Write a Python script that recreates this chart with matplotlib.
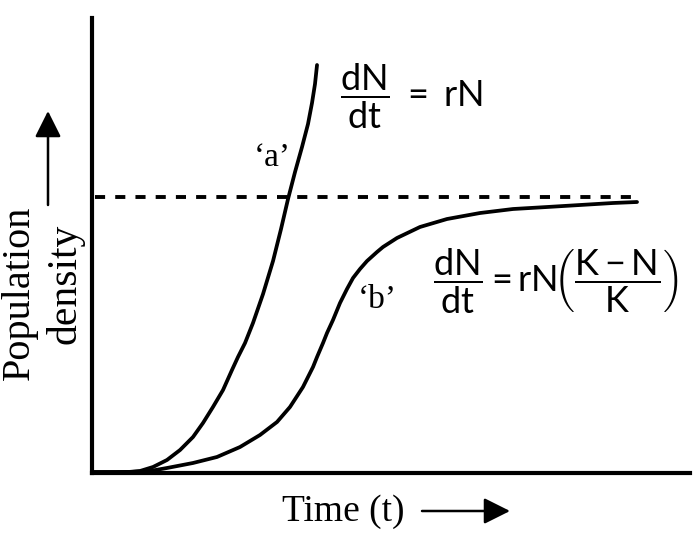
import matplotlib
matplotlib.use("Agg")
import matplotlib.pyplot as plt
from matplotlib.patches import FancyArrowPatch

# ---- data (time and density in arbitrary units, 0-100) ----
time_a = [0.0, 3.85, 6.35, 8.03, 10.20, 12.54, 14.72, 16.89, 18.56, 20.23, 21.91, 23.41,
          24.41, 25.59, 26.92, 28.60, 30.27, 31.61, 32.78, 33.95, 35.12, 36.12, 36.79,
          37.29, 37.63]
density_a = [0.2, 0.2, 0.25, 0.44, 1.32, 2.86, 5.05, 7.91, 10.99, 14.51, 18.24, 22.64,
             25.49, 28.57, 32.97, 39.34, 46.59, 53.63, 60.22, 66.15, 71.65, 76.70, 81.32,
             85.49, 89.67]

time_b = [0.0, 6.35, 9.70, 12.54, 16.89, 20.90, 24.75, 28.09, 30.94, 33.11, 35.28, 36.96,
          37.63, 38.63, 39.30, 40.30, 41.47, 42.64, 43.65, 44.82, 45.99, 47.66, 48.66,
          51.00, 54.85, 59.36, 64.88, 70.40, 76.09, 81.61, 87.12, 91.14]
density_b = [0.2, 0.22, 0.44, 1.10, 2.20, 3.52, 5.71, 8.35, 11.21, 14.51, 18.90, 23.30,
             25.49, 28.57, 30.77, 33.63, 37.36, 40.44, 42.86, 44.84, 46.59, 48.57, 49.67,
             51.65, 54.07, 55.82, 57.14, 58.02, 58.46, 58.90, 59.34, 59.56]

carrying_capacity = 60.6
capacity_time = [0.5, 90.5]

label_a = "\u2018a\u2019"
label_b = "\u2018b\u2019"
eq_exponential = r"$\dfrac{\mathrm{dN}}{\mathrm{dt}}\ =\ \mathrm{rN}$"
eq_logistic = r"$\dfrac{\mathrm{dN}}{\mathrm{dt}}=\mathrm{rN}\!\left(\dfrac{\mathrm{K}-\mathrm{N}}{\mathrm{K}}\right)$"
xlabel = "Time (t)"
ylabel_1 = "Population"
ylabel_2 = "density"

# ---- styling ----
plt.rcParams["mathtext.fontset"] = "custom"
plt.rcParams["mathtext.rm"] = "Lato"
plt.rcParams["mathtext.it"] = "Lato:italic"
plt.rcParams["mathtext.bf"] = "Lato:bold"
SERIF = ["Liberation Serif", "DejaVu Serif"]

W, H = 697, 537
fig = plt.figure(figsize=(W / 100, H / 100), dpi=100)
fig.patch.set_facecolor("white")


def fx(px):
    return px / W


def fy(py):
    return 1 - py / H


ax = fig.add_axes([fx(92), fy(473), fx(690) - fx(92), fy(18) - fy(473)])
ax.set_xlim(0, 100)
ax.set_ylim(0, 100)
for s in ["top", "right"]:
    ax.spines[s].set_visible(False)
for s in ["left", "bottom"]:
    ax.spines[s].set_linewidth(3.0)
    ax.spines[s].set_color("black")
ax.set_xticks([])
ax.set_yticks([])

for t, d in [(time_a, density_a), (time_b, density_b)]:
    ax.plot(t, d, color="black", lw=2.7, solid_capstyle="round", solid_joinstyle="round",
            clip_on=False)
ax.plot(capacity_time, [carrying_capacity, carrying_capacity], color="black", lw=2.8,
        dashes=(2.6, 2.6), dash_capstyle="butt", clip_on=False)

# curve labels
fig.text(fx(272), fy(158), label_a, fontsize=24, family=SERIF, ha="center", va="center")
fig.text(fx(377), fy(300), label_b, fontsize=24, family=SERIF, ha="center", va="center")

# equations
fig.text(fx(340), fy(96), eq_exponential, fontsize=26, ha="left", va="center")
fig.text(fx(433), fy(281), eq_logistic, fontsize=26, ha="left", va="center")

# axis labels
fig.text(fx(282), fy(512), xlabel, fontsize=27, family=SERIF, ha="left", va="center")
fig.text(fx(1), fy(293), ylabel_1, fontsize=29, family=SERIF, rotation=90, ha="left", va="center")
fig.text(fx(65), fy(284), ylabel_2, fontsize=30, family=SERIF, rotation=90, ha="center", va="center")

# arrows
for (x0, y0, x1, y1) in [(422, 511, 510, 511), (48, 205, 48, 111)]:
    arr = FancyArrowPatch((fx(x0), fy(y0)), (fx(x1), fy(y1)), transform=fig.transFigure,
                          arrowstyle="-|>,head_length=0.8,head_width=0.4", mutation_scale=20,
                          color="black", lw=1.8, shrinkA=0, shrinkB=0)
    fig.add_artist(arr)

fig.savefig("out.png", dpi=100, facecolor="white")
